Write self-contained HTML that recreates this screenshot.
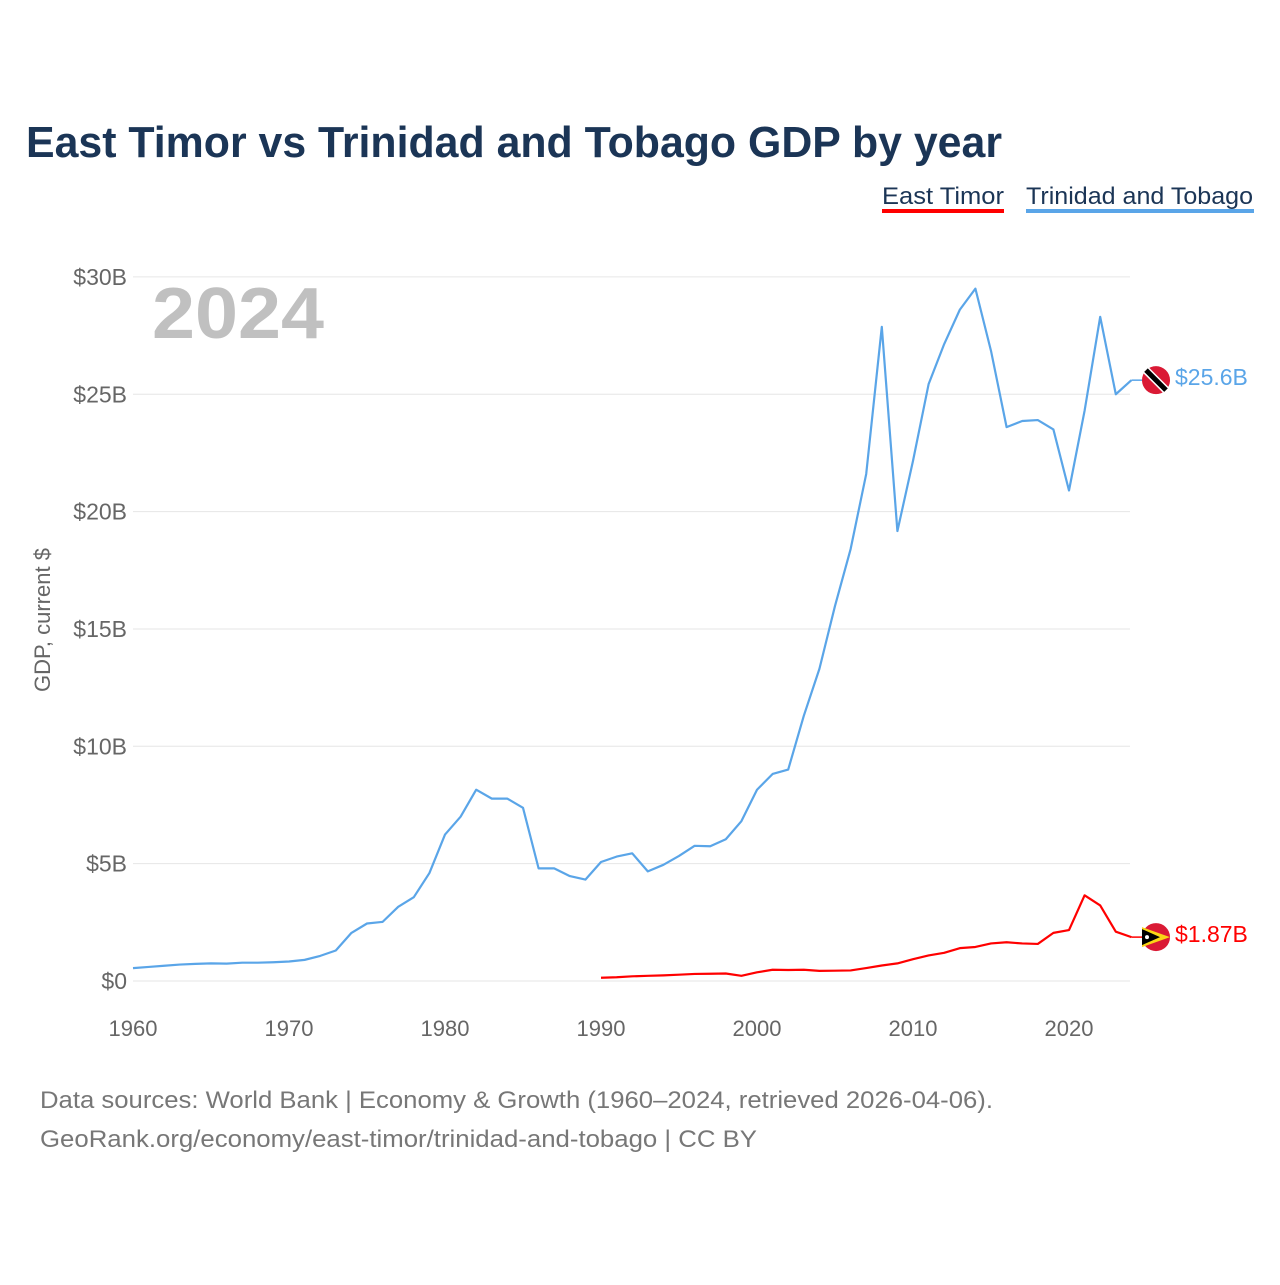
<!DOCTYPE html>
<html><head><meta charset="utf-8"><style>
body{margin:0;background:#fff;font-family:"Liberation Sans",sans-serif}
</style></head><body>
<svg width="1280" height="1280" xmlns="http://www.w3.org/2000/svg" font-family="Liberation Sans, sans-serif">
<text x="26" y="157" font-size="44" font-weight="bold" fill="#1b3556" textLength="976" lengthAdjust="spacingAndGlyphs">East Timor vs Trinidad and Tobago GDP by year</text>
<g>
<text x="882" y="204" font-size="24" fill="#1b3556" textLength="122" lengthAdjust="spacingAndGlyphs">East Timor</text>
<rect x="882" y="209" width="122" height="4" fill="#ff0000"/>
<text x="1026" y="204" font-size="24" fill="#1b3556" textLength="227" lengthAdjust="spacingAndGlyphs">Trinidad and Tobago</text>
<rect x="1026" y="209" width="228" height="4" fill="#5aa5e8"/>
</g>
<text x="152" y="338" font-size="72" font-weight="bold" fill="#c0c0c0" textLength="172" lengthAdjust="spacingAndGlyphs">2024</text>
<text transform="translate(50,620) rotate(-90)" font-size="22" fill="#666" text-anchor="middle">GDP, current $</text>
<g id="grid"></g><g id="xt"></g><g id="lines"></g>
<text x="40" y="1108" font-size="24" fill="#777" textLength="953" lengthAdjust="spacingAndGlyphs">Data sources: World Bank | Economy &amp; Growth (1960–2024, retrieved 2026-04-06).</text>
<text x="40" y="1147" font-size="24" fill="#777" textLength="717" lengthAdjust="spacingAndGlyphs">GeoRank.org/economy/east-timor/trinidad-and-tobago | CC BY</text>
</svg>
<script>
const yTicks=[0,5,10,15,20,25,30];
const yTickLabels=["$0","$5B","$10B","$15B","$20B","$25B","$30B"];
const xTicks=[1960,1970,1980,1990,2000,2010,2020];
const ttYears=[];for(let y=1960;y<=2024;y++)ttYears.push(y);
const ttValues=[0.55,0.6,0.65,0.7,0.73,0.75,0.74,0.78,0.78,0.8,0.83,0.9,1.07,1.3,2.05,2.45,2.52,3.16,3.57,4.6,6.24,7.0,8.15,7.77,7.77,7.38,4.8,4.8,4.47,4.32,5.07,5.3,5.44,4.67,4.95,5.33,5.76,5.74,6.04,6.81,8.15,8.82,9.01,11.3,13.3,15.98,18.4,21.6,27.87,19.17,22.16,25.43,27.14,28.6,29.5,26.85,23.6,23.86,23.9,23.5,20.9,24.3,28.3,25.0,25.6];
const etYears=[];for(let y=1990;y<=2024;y++)etYears.push(y);
const etValues=[0.14,0.16,0.2,0.22,0.24,0.27,0.3,0.31,0.32,0.22,0.37,0.48,0.47,0.48,0.43,0.44,0.45,0.55,0.66,0.75,0.93,1.09,1.2,1.4,1.45,1.6,1.65,1.6,1.58,2.05,2.17,3.65,3.22,2.1,1.87];
const NS="http://www.w3.org/2000/svg";
const X=y=>133+(y-1960)*15.6, Y=v=>981-v*23.47;
function mk(t,a,p){const e=document.createElementNS(NS,t);for(const k in a)e.setAttribute(k,a[k]);p.appendChild(e);return e;}
const grid=document.getElementById('grid');
yTicks.forEach((v,i)=>{
 const l=mk('line',{x1:133,x2:1130,y1:Y(v),y2:Y(v),stroke:'#e6e6e6','stroke-width':1},grid);
 
 
 const t=mk('text',{x:127,y:Y(v)+8,'font-size':23,fill:'#666','text-anchor':'end'},grid);t.textContent=yTickLabels[i];
 
 
});
const xt=document.getElementById('xt');
xTicks.forEach(v=>{
 const t=mk('text',{x:X(v),y:1036,'font-size':22,fill:'#666','text-anchor':'middle'},xt);t.textContent=v;
 
 
});
const lines=document.getElementById('lines');
function series(xs,vs,col,name,label,flag){
 const p=mk('polyline',{points:xs.map((x,i)=>X(x)+','+Y(vs[i])).join(' '),fill:'none',stroke:col,'stroke-width':2.2,'stroke-linejoin':'round'},lines);
 
 
 const lx=X(xs[xs.length-1]),ly=Y(vs[vs.length-1]);
 mk('line',{x1:lx,y1:ly,x2:1142,y2:ly,stroke:col,'stroke-width':1.5},lines);
 const g=mk('g',{},lines);
 
 
 mk('circle',{cx:1156,cy:ly,r:14,fill:'#da1a35'},g);
 if(flag==='tt'){mk('line',{x1:1146,y1:ly-10,x2:1166,y2:ly+10,stroke:'#fff','stroke-width':8},g);mk('line',{x1:1146,y1:ly-10,x2:1166,y2:ly+10,stroke:'#000','stroke-width':5},g);}
 else{mk('path',{d:`M1142 ${ly-10} L1170 ${ly} L1142 ${ly+10}Z`,fill:'#f9d616'},g);mk('path',{d:`M1142 ${ly-8} L1160 ${ly} L1142 ${ly+8}Z`,fill:'#000'},g);mk('circle',{cx:1147,cy:ly,r:2,fill:'#fff'},g);}
 const t=mk('text',{x:1175,y:ly+5,'font-size':23,fill:col},lines);t.textContent=label;
 
 
}
series(ttYears,ttValues,'#5aa5e8','trinidad','$25.6B','tt');
series(etYears,etValues,'#ff0000','east-timor','$1.87B','et');
</script>
</body></html>
